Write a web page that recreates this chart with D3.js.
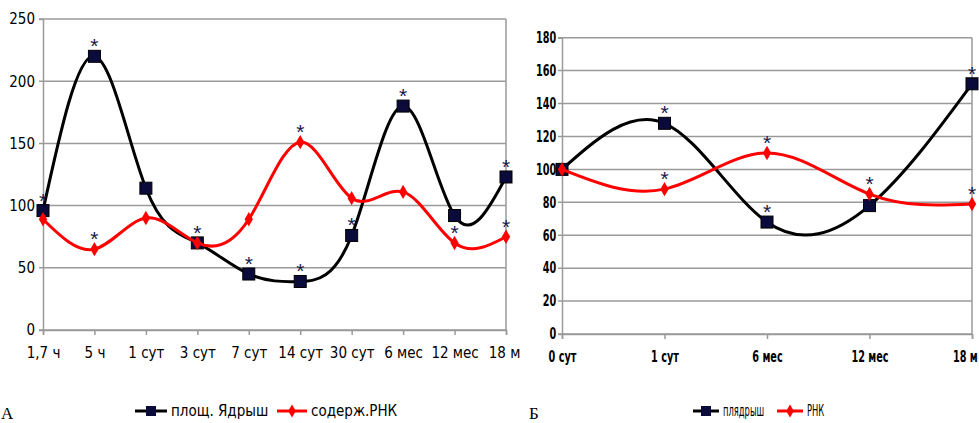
<html>
<script src="https://cdn.jsdelivr.net/npm/d3@7"></script>
<style>
body { margin: 0; background: white; }
svg text { font-family: 'Liberation Sans Narrow', 'Arial Narrow', 'DejaVu Sans Condensed', sans-serif; }
</style>
<body>
<svg width="979" height="423"></svg>
<script>
// panel A
const catA = ["1,7 ч", "5 ч", "1 сут", "3 сут", "7 сут", "14 сут", "30 сут", "6 мес", "12 мес", "18 м"];
const areaA = [96, 220, 114, 70, 45, 39, 76, 180, 92, 123];
const rnaA = [89, 65, 90, 70, 89, 151, 106, 111, 70, 75];
const sigAreaA = [1, 1, 0, 1, 1, 1, 1, 1, 0, 1];
const sigRnaA = [0, 1, 0, 0, 0, 1, 0, 0, 1, 1];
const ticksA = [0, 50, 100, 150, 200, 250];

// panel B
const catB = ["0 сут", "1 сут", "6 мес", "12 мес", "18 м"];
const areaB = [100, 128, 68, 78, 152];
const rnaB = [100, 88, 110, 85, 79];
const sigAreaB = [0, 1, 1, 0, 1];
const sigRnaB = [0, 1, 1, 1, 1];
const ticksB = [0, 20, 40, 60, 80, 100, 120, 140, 160, 180];

const svg = d3.select("svg");

function panel(p) {
    var x = d3.scalePoint().domain(p.cats).range([p.x0, p.x1]).padding(0);
    var y = d3.scaleLinear().domain([0, p.max]).range([p.y0, p.y1]);
    var g = svg.append("g");

    // grid
    g.selectAll("line.grid")
    .data(p.ticks)
    .enter()
    .append("line")
    .attr("x1", p.x0 - 4)
    .attr("x2", p.x1)
    .attr("y1", d => y(d))
    .attr("y2", d => y(d))
    .attr("stroke", "#9a9a9a")
    .attr("stroke-width", 1.5);

    g.append("line")
    .attr("x1", p.x1).attr("x2", p.x1)
    .attr("y1", p.y1).attr("y2", p.y0)
    .attr("stroke", "#9a9a9a")
    .attr("stroke-width", 1.5);

    const yAxis = g.append("g")
    .attr("transform", "translate(" + p.x0 + ",0)")
    .call(d3.axisLeft(y).tickValues(p.ticks).tickSize(4).tickPadding(4));
    yAxis.select(".domain").attr("stroke", "#9a9a9a").attr("stroke-width", 1.5);
    yAxis.selectAll(".tick line").attr("stroke", "none");
    yAxis.selectAll("text")
    .style("font-size", p.fs + "px")
    .style("font-weight", p.fw)
    .attr("fill", "black")
    .attr("transform", "scale(" + p.sx + ",1)");

    const xAxis = g.append("g")
    .attr("transform", "translate(0," + p.y0 + ")")
    .call(d3.axisBottom(x).tickSize(5).tickPadding(12));
    xAxis.select(".domain").attr("stroke", "#9a9a9a").attr("stroke-width", 1.5);
    xAxis.selectAll(".tick line").attr("stroke", "#9a9a9a").attr("stroke-width", 1.5);
    xAxis.selectAll("text")
    .style("font-size", p.fs + "px")
    .style("font-weight", p.fw)
    .attr("fill", "black")
    .attr("transform", "scale(" + p.sx + ",1)");
    // keep the last label inside the window
    xAxis.selectAll(".tick:last-of-type text").attr("dx", p.lastDx);

    var line = d3.line()
    .x((d, i) => x(p.cats[i]))
    .y(d => y(d))
    .curve(d3.curveNatural);

    g.append("path")
    .attr("d", line(p.area))
    .attr("fill", "none")
    .attr("stroke", "black")
    .attr("stroke-width", 3);

    g.selectAll("rect.m")
    .data(p.area)
    .enter()
    .append("rect")
    .attr("x", (d, i) => x(p.cats[i]) - 6)
    .attr("y", d => y(d) - 6)
    .attr("width", 12)
    .attr("height", 12)
    .attr("fill", "#0b0b3b")
    .attr("stroke", "black");

    g.append("path")
    .attr("d", line(p.rna))
    .attr("fill", "none")
    .attr("stroke", "red")
    .attr("stroke-width", 3);

    g.selectAll("path.m")
    .data(p.rna)
    .enter()
    .append("path")
    .attr("d", d3.symbol().type(d3.symbolDiamond).size(60))
    .attr("transform", (d, i) => "translate(" + x(p.cats[i]) + "," + y(d) + ")")
    .attr("fill", "red");

    // significance marks
    var stars = [];
    p.area.forEach((d, i) => { if (p.sigArea[i]) stars.push([p.cats[i], d]); });
    p.rna.forEach((d, i) => { if (p.sigRna[i]) stars.push([p.cats[i], d]); });
    g.selectAll("text.star")
    .data(stars)
    .enter()
    .append("text")
    .attr("x", d => x(d[0]))
    .attr("y", d => y(d[1]) - 15 + 12)
    .attr("text-anchor", "middle")
    .style("font-size", "21px")
    .style("font-family", "'Liberation Sans', sans-serif")
    .attr("fill", "#1a1a4a")
    .text("*");

    // legend
    var L = p.leg;
    g.append("line").attr("x1", L[0]).attr("x2", L[1]).attr("y1", 411).attr("y2", 411)
    .attr("stroke", "black").attr("stroke-width", 3);
    g.append("rect").attr("x", (L[0] + L[1]) / 2 - 5).attr("y", 406).attr("width", 10).attr("height", 10)
    .attr("fill", "#0b0b3b");
    g.append("text").attr("x", L[1] + 4).attr("y", 416)
    .style("font-size", p.lfs + "px").style("font-weight", p.lfw)
    .attr("transform-origin", (L[1] + 4) + "px 416px")
    .attr("transform", "scale(" + p.lsx + ",1)")
    .text(p.names[0]);
    g.append("line").attr("x1", L[2]).attr("x2", L[3]).attr("y1", 411).attr("y2", 411)
    .attr("stroke", "red").attr("stroke-width", 3);
    g.append("path").attr("d", d3.symbol().type(d3.symbolDiamond).size(50))
    .attr("transform", "translate(" + (L[2] + L[3]) / 2 + ",411)")
    .attr("fill", "red");
    g.append("text").attr("x", L[3] + 4).attr("y", 416)
    .style("font-size", p.lfs + "px").style("font-weight", p.lfw)
    .attr("transform-origin", (L[3] + 4) + "px 416px")
    .attr("transform", "scale(" + p.lsx + ",1)")
    .text(p.names[1]);

    g.append("text").attr("x", p.letterX).attr("y", 419)
    .style("font-family", "'Liberation Serif', serif")
    .style("font-size", "17px")
    .text(p.letter);
}

panel({cats: catA, area: areaA, rna: rnaA, sigArea: sigAreaA, sigRna: sigRnaA, ticks: ticksA, max: 250,
    x0: 43, x1: 506, y0: 330, y1: 19, fs: 15, sx: 1, fw: "normal", lastDx: "-2px",
    leg: [135, 167, 277, 307], names: ["площ. Ядрыш", "содерж.РНК"], lfs: 15, lsx: 1, lfw: "normal",
    letter: "А", letterX: 1});

panel({cats: catB, area: areaB, rna: rnaB, sigArea: sigAreaB, sigRna: sigRnaB, ticks: ticksB, max: 180,
    x0: 562, x1: 972, y0: 334, y1: 37.7, fs: 15, sx: 0.72, fw: "bold", lastDx: "-10px",
    leg: [693, 719, 777, 803], names: ["плядрыш", "РНК"], lfs: 15, lsx: 0.62, lfw: "normal",
    letter: "Б", letterX: 529});
</script>
</body>
</html>
